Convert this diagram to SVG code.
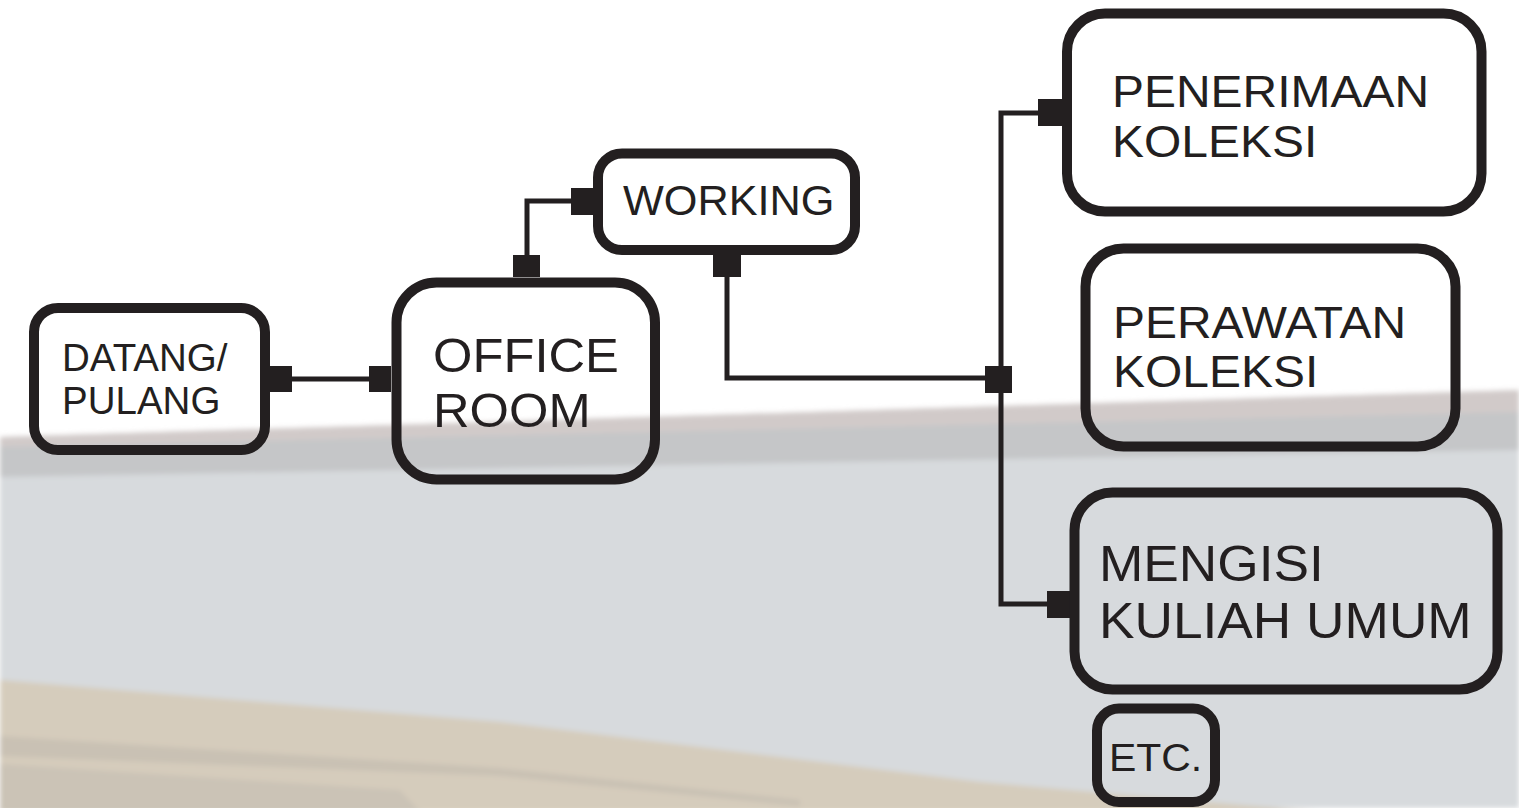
<svg xmlns="http://www.w3.org/2000/svg" width="1519" height="808" viewBox="0 0 1519 808">
<style>
.box{fill:none;stroke:#231f20;stroke-width:10}
.wire{fill:none;stroke:#231f20;stroke-width:5}
.cap{fill:#231f20}
.t{font-family:"Liberation Sans",Arial,sans-serif;fill:#231f20}
</style>
<defs>
<filter id="soft" x="-5%" y="-5%" width="110%" height="110%"><feGaussianBlur stdDeviation="2.5"/></filter>
</defs>
<g id="background">
<rect width="1519" height="808" fill="#ffffff"/>
<g filter="url(#soft)">
<polygon points="0,437 1519,390 1519,808 0,808" fill="#d7dadd"/>
<polygon points="0,437 1519,390 1519,412 0,447" fill="#d1cac9"/>
<polygon points="0,447 1519,412 1519,450 0,477" fill="#c5c6c8"/>
<polygon points="0,680 500,722 980,782 1320,812 0,812" fill="#d5ccbc"/>
<polygon points="0,736 500,768 800,800 800,806 500,776 0,756" fill="#c9c1b4"/>
<polygon points="0,764 400,790 420,812 0,812" fill="#cbc3b6"/>
</g>
</g>
<g id="connectors">
<path class="wire" d="M292,379 H369"/>
<path class="wire" d="M527,256 V201 H572"/>
<path class="wire" d="M727,276 V378 H986"/>
<path class="wire" d="M1039,113 H1001 V604 H1048"/>
<rect class="cap" x="270" y="366" width="22" height="26"/>
<rect class="cap" x="369" y="366" width="22" height="26"/>
<rect class="cap" x="513" y="255" width="27" height="22"/>
<rect class="cap" x="571" y="188" width="22" height="27"/>
<rect class="cap" x="713" y="255" width="28" height="22"/>
<rect class="cap" x="985" y="366" width="27" height="27"/>
<rect class="cap" x="1038" y="99" width="24" height="27"/>
<rect class="cap" x="1047" y="591" width="24" height="27"/>
</g>
<g id="node-datang">
<rect class="box" x="34" y="308" width="231" height="142" rx="24"/>
<text class="t" font-size="38.5" transform="translate(62 0)"><tspan x="0" y="371">DATANG/</tspan><tspan x="0" y="414">PULANG</tspan></text>
</g>
<g id="node-office">
<rect class="box" x="396.5" y="282.5" width="258.5" height="197" rx="40"/>
<text class="t" font-size="49" transform="translate(433 0) scale(1.035 1)"><tspan x="0" y="372">OFFICE</tspan><tspan x="0" y="427">ROOM</tspan></text>
</g>
<g id="node-working">
<rect class="box" x="598" y="153.5" width="257" height="96.5" rx="24"/>
<text class="t" font-size="42" transform="translate(623 0) scale(1.03 1)"><tspan x="0" y="215">WORKING</tspan></text>
</g>
<g id="node-penerimaan">
<rect class="box" x="1067" y="13.5" width="414.5" height="198" rx="38"/>
<text class="t" font-size="44" transform="translate(1112 0) scale(1.09 1)"><tspan x="0" y="107">PENERIMAAN</tspan><tspan x="0" y="157">KOLEKSI</tspan></text>
</g>
<g id="node-perawatan">
<rect class="box" x="1085.5" y="248.5" width="370" height="198" rx="38"/>
<text class="t" font-size="44" transform="translate(1113 0) scale(1.09 1)"><tspan x="0" y="338">PERAWATAN</tspan><tspan x="0" y="387">KOLEKSI</tspan></text>
</g>
<g id="node-mengisi">
<rect class="box" x="1074.5" y="492.5" width="423" height="197" rx="38"/>
<text class="t" font-size="50" transform="translate(1099 0) scale(1.065 1)"><tspan x="0" y="581">MENGISI</tspan><tspan x="0" y="638">KULIAH UMUM</tspan></text>
</g>
<g id="node-etc">
<rect class="box" x="1097" y="708.5" width="118" height="93.5" rx="22"/>
<text class="t" font-size="39" transform="translate(1109 0) scale(1.05 1)"><tspan x="0" y="771">ETC.</tspan></text>
</g>
</svg>
